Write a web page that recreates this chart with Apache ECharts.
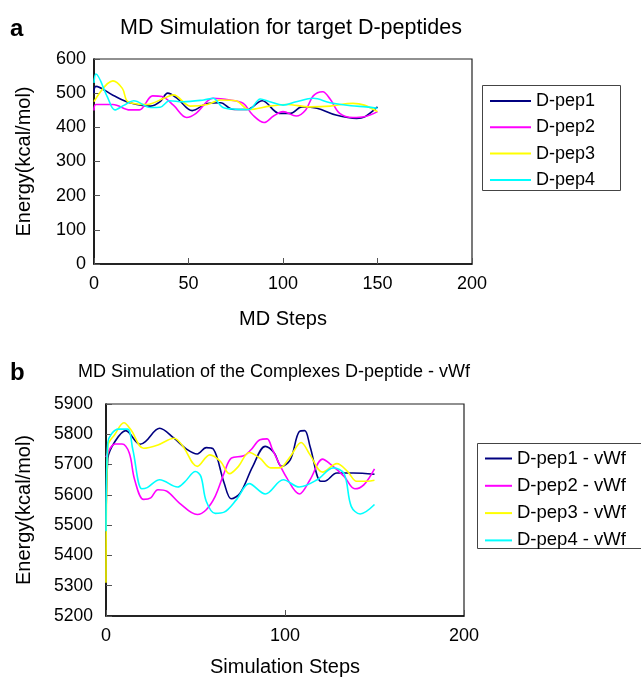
<!DOCTYPE html>
<html>
<head>
<meta charset="utf-8">
<script src="https://cdn.jsdelivr.net/npm/echarts@6/dist/echarts.min.js"></script>
<style>
html,body{margin:0;padding:0;background:#fff;}
#chart{width:641px;height:678px;}
</style>
</head>
<body>
<div id="chart"></div>
<script>
// ---- Panel a data ----
const namesA = ['D-pep1', 'D-pep2', 'D-pep3', 'D-pep4'];
const xTicksA = [0, 50, 100, 150, 200];
const yTicksA = [0, 100, 200, 300, 400, 500, 600];
const pep1aSteps = [0,1,10,19,30,35,39,44,52,60,67,73,81,89,98,104,110,118,128,139,143,150];
const pep1aVals  = [500,520,494,472,462,475,500,485,449,470,472,453,452,478,441,441,460,456,436,426,430,460];
const pep2aSteps = [0,1,10,19,24,31,36,42,49,54,63,72,79,84,90,95,100,107,112,116,121,125,130,137,143,150];
const pep2aVals  = [449,467,467,451,451,492,490,465,429,441,485,480,470,436,414,433,446,433,451,492,504,482,441,429,431,446];
const pep3aSteps = [0,10,15,18,28,37,42,51,60,67,75,82,93,102,114,125,137,143,150];
const pep3aVals  = [475,536,514,475,467,485,495,462,467,480,478,452,462,467,460,462,470,465,446];
const pep4aSteps = [0,1,7,11,16,21,30,35,40,47,58,63,68,75,82,88,93,100,107,116,125,136,144,150];
const pep4aVals  = [530,556,490,451,465,478,458,459,478,475,480,485,459,453,452,483,475,465,475,485,472,463,460,456];

// ---- Panel b data ----
const namesB = ['D-pep1 - vWf', 'D-pep2 - vWf', 'D-pep3 - vWf', 'D-pep4 - vWf'];
const xTicksB = [0, 100, 200];
const yTicksB = [5200, 5300, 5400, 5500, 5600, 5700, 5800, 5900];
const pep1bSteps = [0,1,5,11,19,22,30,38,45,51,56,60,66,70,75,82,89,94,98,103,108,111,114,120,122,129,138,150];
const pep1bVals  = [5450,5720,5776,5812,5767,5776,5820,5787,5751,5735,5756,5751,5639,5587,5606,5694,5760,5738,5694,5716,5809,5812,5760,5645,5645,5672,5672,5668];
const pep2bSteps = [0,5,9,13,16,21,25,29,34,41,51,56,61,66,70,77,81,86,90,93,101,108,114,121,125,133,139,144,150];
const pep2bVals  = [5725,5768,5768,5738,5650,5585,5590,5617,5612,5573,5535,5551,5595,5672,5721,5729,5749,5782,5785,5749,5656,5603,5650,5718,5703,5661,5620,5633,5686];
const pep3bSteps = [0,1,5,10,14,21,29,38,43,51,58,64,69,74,80,86,92,97,103,109,114,121,129,135,140,146,150];
const pep3bVals  = [5310,5760,5800,5838,5814,5754,5765,5787,5760,5694,5732,5710,5670,5694,5740,5721,5689,5689,5727,5773,5732,5675,5703,5677,5645,5645,5648];
const pep4bSteps = [0,1,7,12,15,20,23,30,40,44,50,53,56,61,66,73,80,89,99,108,118,127,133,137,142,150];
const pep4bVals  = [5480,5772,5817,5817,5749,5620,5624,5650,5626,5643,5677,5661,5579,5539,5543,5585,5637,5603,5650,5626,5650,5689,5670,5562,5537,5568];

const colors = ['#000080', '#FF00FF', '#FFFF00', '#00FFFF'];
const FONT = 'Liberation Sans, Arial, Helvetica, sans-serif';

function pairs(xs, ys) { return xs.map((x, i) => [x, ys[i]]); }

const seriesA = [
  pairs(pep1aSteps, pep1aVals), pairs(pep2aSteps, pep2aVals),
  pairs(pep3aSteps, pep3aVals), pairs(pep4aSteps, pep4aVals)
];
const seriesB = [
  pairs(pep1bSteps, pep1bVals), pairs(pep2bSteps, pep2bVals),
  pairs(pep3bSteps, pep3bVals), pairs(pep4bSteps, pep4bVals)
];

function mkSeries(data, names, gi) {
  return data.map((d, i) => ({
    name: names[i], type: 'line', xAxisIndex: gi, yAxisIndex: gi,
    data: d, smooth: 0.35, symbol: 'none', showSymbol: false,
    lineStyle: { color: colors[i], width: 1.6 }, itemStyle: { color: colors[i] },
    animation: false, z: 3 + i
  }));
}

function xAxis(gi, ticks, name, gap, fs) {
  return {
    type: 'value', gridIndex: gi, min: ticks[0], max: ticks[ticks.length - 1],
    interval: ticks[1] - ticks[0],
    name: name, nameLocation: 'middle', nameGap: gap,
    nameTextStyle: { fontFamily: FONT, fontSize: 20, color: '#000' },
    axisLine: { show: true, lineStyle: { color: '#000', width: 1.5 } },
    axisTick: { show: true, inside: true, length: 6, lineStyle: { color: '#555', width: 1 } },
    axisLabel: { fontFamily: FONT, fontSize: fs, color: '#000', margin: 11, formatter: v => String(v) },
    splitLine: { show: false }
  };
}
function yAxis(gi, ticks, gap, margin, fs) {
  return {
    type: 'value', gridIndex: gi, min: ticks[0], max: ticks[ticks.length - 1],
    interval: ticks[1] - ticks[0],
    name: 'Energy(kcal/mol)', nameLocation: 'middle', nameGap: gap, nameRotate: 90,
    nameTextStyle: { fontFamily: FONT, fontSize: 20, color: '#000' },
    axisLine: { show: true, lineStyle: { color: '#000', width: 1.5 } },
    axisTick: { show: true, inside: true, length: 6, lineStyle: { color: '#555', width: 1 } },
    axisLabel: { fontFamily: FONT, fontSize: fs, color: '#000', margin: margin, formatter: v => String(v) },
    splitLine: { show: false }
  };
}

const chart = echarts.init(document.getElementById('chart'), null, { renderer: 'canvas' });
chart.setOption({
  backgroundColor: '#fff',
  animation: false,
  grid: [
    { left: 94, top: 59, width: 378, height: 205, show: true, borderColor: '#222', borderWidth: 1.2, backgroundColor: 'transparent' },
    { left: 106, top: 404, width: 358, height: 213, show: true, borderColor: '#222', borderWidth: 1.2, backgroundColor: 'transparent' }
  ],
  xAxis: [ xAxis(0, xTicksA, 'MD Steps', 45, 18), xAxis(1, xTicksB, 'Simulation Steps', 41, 18) ],
  yAxis: [ yAxis(0, yTicksA, 60, 8, 18), yAxis(1, yTicksB, 72, 13, 17.5) ],
  legend: [
    { data: namesA, orient: 'vertical', left: 490, top: 92, padding: 0, icon: 'rect',
      itemWidth: 41, itemHeight: 2, itemGap: 8.3,
      textStyle: { fontFamily: FONT, fontSize: 18, color: '#000', lineHeight: 18 } },
    { data: namesB, orient: 'vertical', left: 485, top: 449, padding: 0, icon: 'rect',
      itemWidth: 27, itemHeight: 2, itemGap: 8.3,
      textStyle: { fontFamily: FONT, fontSize: 18.5, color: '#000', lineHeight: 18 } }
  ],
  graphic: [
    { type: 'rect', shape: { x: 482.5, y: 85.5, width: 138, height: 105 }, style: { fill: 'none', stroke: '#444', lineWidth: 1 }, z: 1 },
    { type: 'rect', shape: { x: 477.5, y: 443.5, width: 170, height: 105 }, style: { fill: 'none', stroke: '#444', lineWidth: 1 }, z: 1 },
    { type: 'text', x: 10, y: 29, style: { text: 'a', font: 'bold 24px ' + FONT, fill: '#000', textVerticalAlign: 'middle' } },
    { type: 'text', x: 10, y: 373, style: { text: 'b', font: 'bold 24px ' + FONT, fill: '#000', textVerticalAlign: 'middle' } },
    { type: 'text', x: 291, y: 28, style: { text: 'MD Simulation for target D-peptides', font: '21.5px ' + FONT, fill: '#000', textAlign: 'center', textVerticalAlign: 'middle' } },
    { type: 'text', x: 274, y: 372, style: { text: 'MD Simulation of the Complexes D-peptide - vWf', font: '18px ' + FONT, fill: '#000', textAlign: 'center', textVerticalAlign: 'middle' } }
  ],
  series: mkSeries(seriesA, namesA, 0).concat(mkSeries(seriesB, namesB, 1))
});
</script>
</body>
</html>
